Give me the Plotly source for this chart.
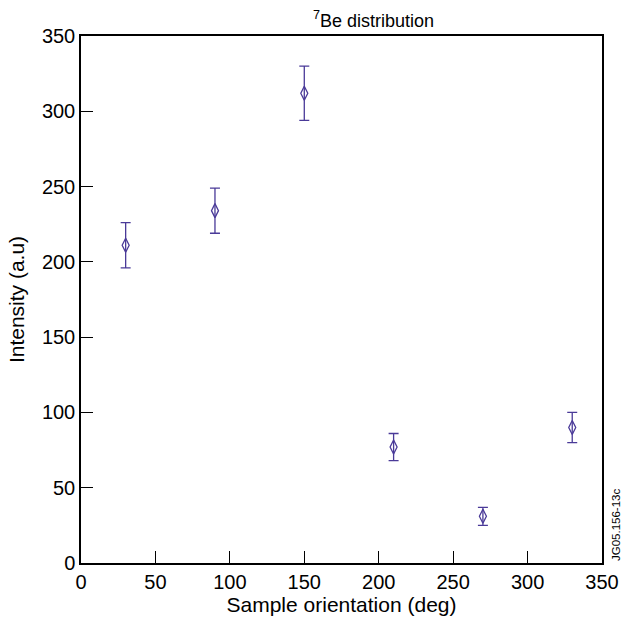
import plotly.graph_objects as go

# Sample orientation (deg) and measured 7Be intensity with uncertainty
orientation = [30, 90, 150, 210, 270, 330]
intensity = [211, 234, 312, 77, 31, 90]
uncertainty = [15, 15, 18, 9, 6, 10]

x_ticks = [0, 50, 100, 150, 200, 250, 300, 350]
y_ticks = [0, 50, 100, 150, 200, 250, 300, 350]

color = "#4a3a98"
font = "Liberation Sans, Arial, sans-serif"

fig = go.Figure()
fig.add_trace(go.Scatter(
    x=orientation, y=intensity, mode="markers",
    marker=dict(symbol="diamond-tall-open", size=10, color=color,
                line=dict(width=1.3, color=color)),
    error_y=dict(type="data", array=uncertainty, visible=True,
                 color=color, thickness=1.3, width=5),
    showlegend=False,
))

axis_common = dict(
    showgrid=False, zeroline=False, showline=True, linecolor="black",
    linewidth=1.5, mirror=True, ticks="inside", ticklen=12,
    tickwidth=1.3, tickcolor="black",
    tickfont=dict(family=font, size=20, color="black"),
)

fig.update_layout(
    width=631, height=621,
    margin=dict(l=81, r=25, t=36, b=56),
    paper_bgcolor="white", plot_bgcolor="white",
    xaxis=dict(range=[0, 350], tickvals=x_ticks,
               title=dict(text="Sample orientation (deg)", standoff=2,
                          font=dict(family=font, size=21, color="black")),
               **axis_common),
    yaxis=dict(range=[0, 350], tickvals=y_ticks,
               title=dict(text="Intensity (a.u)", standoff=12,
                          font=dict(family=font, size=21, color="black")),
               **axis_common),
    annotations=[
        dict(text="<sup>7</sup>Be distribution",
             x=(376 - 81) / (631 - 81 - 25), y=1.0,
             xref="paper", yref="paper", yanchor="bottom", yshift=3,
             showarrow=False,
             font=dict(family=font, size=18, color="black")),
        dict(text="JG05.156-13c", x=1.0, y=0.0, xref="paper", yref="paper",
             xanchor="left", yanchor="bottom", xshift=6, textangle=-90,
             showarrow=False,
             font=dict(family=font, size=11.5, color="black")),
    ],
)

fig.write_html("out.html")
